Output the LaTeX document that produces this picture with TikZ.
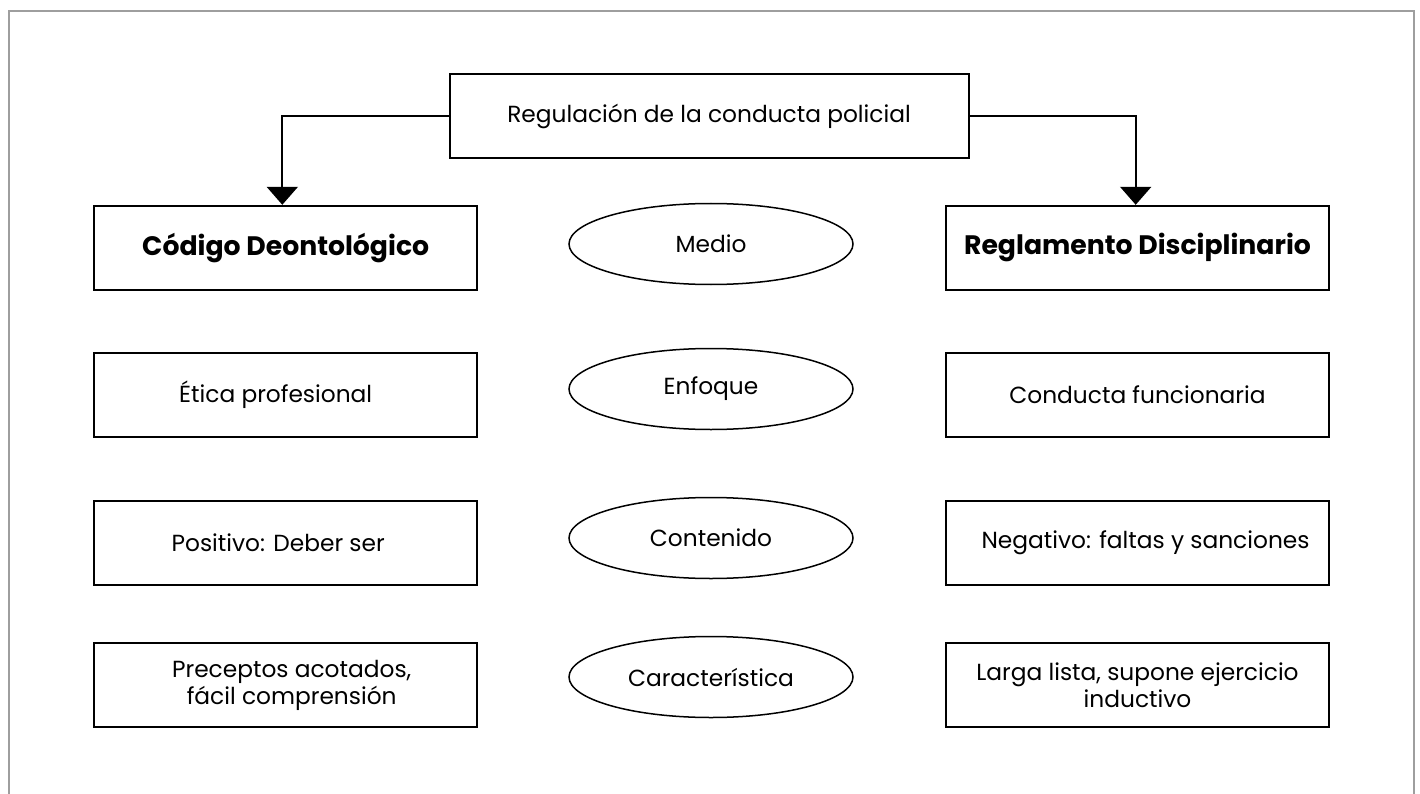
\documentclass[tikz,border=0pt]{standalone}
\usepackage{fontspec}
\setmainfont{Poppins}
\usetikzlibrary{shapes.geometric,arrows.meta}

\begin{document}
\begin{tikzpicture}[x=1pt,y=-1pt,
  every node/.style={inner sep=0pt, align=center},
  txt/.style={font=\fontsize{23.3}{27}\selectfont},
  hdr/.style={font=\fontsize{26.7}{30}\selectfont\bfseries},
  box/.style={draw, line width=2pt, minimum width=383pt, minimum height=84pt, txt},
  topbox/.style={draw, line width=2pt, minimum width=519pt, minimum height=84pt, txt},
  oval/.style={draw, ellipse, line width=1.5pt, minimum width=284pt, minimum height=81pt, txt},
  conn/.style={line width=2pt, -{Triangle[width=31pt,length=18pt]}},
  frame/.style={draw=black!38, line width=2pt}
]
\useasboundingbox (0,0) rectangle (1420,794);

% outer frame, open at the bottom
\draw[frame] (9.2,796) -- (9.2,10.8) -- (1413.8,10.8) -- (1413.8,796);

% title
\node[topbox] (top) at (709,116.2) {Regulación de la conducta policial};

% left column: Código Deontológico
\node[box, hdr] (cod) at (285.7,247.8) {Código Deontológico};
\node[box] (cod2) at (285.7,395) {Ética profesional\hspace*{20pt}};
\node[box] (cod3) at (285.7,542.7) {Positivo: Deber ser\hspace*{15pt}};
\node[box] (cod4) at (285.7,685.3) {\hspace*{12pt}Preceptos acotados,\\\hspace*{12pt}fácil comprensión};

% right column: Reglamento Disciplinario
\node[box, hdr] (reg) at (1137.5,247.8) {Reglamento Disciplinario};
\node[box] (reg2) at (1137.5,395) {Conducta funcionaria};
\node[box] (reg3) at (1137.5,542.7) {\hspace*{16pt}Negativo: faltas y sanciones};
\node[box] (reg4) at (1137.5,685.3) {Larga lista, supone ejercicio\\inductivo};

% middle column: criteria
\node[oval] (m1) at (711,244) {Medio};
\node[oval] (m2) at (711,389) {Enfoque};
\node[oval] (m3) at (711,538) {Contenido};
\node[oval] (m4) at (711,677) {Característica};

% connectors
\draw[conn] (top.west) -| ([xshift=-3.4pt]cod.north);
\draw[conn] (top.east) -| ([xshift=-1.8pt]reg.north);
\end{tikzpicture}
\end{document}
